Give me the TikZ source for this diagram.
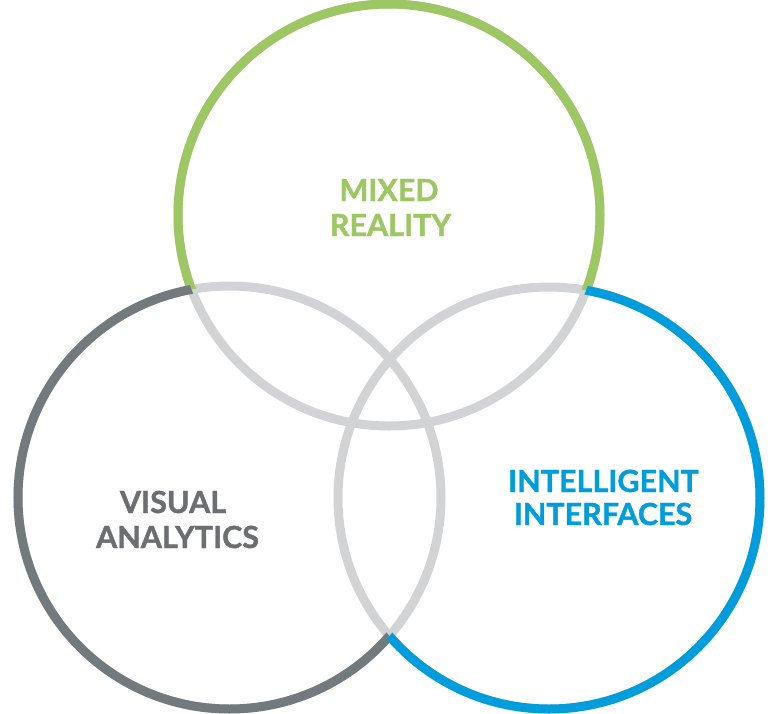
\documentclass[tikz,border=0pt]{standalone}
\usepackage{fontspec}
\setmainfont{Lato}[BoldFeatures={FakeBold=1.2}]
\definecolor{mrgreen}{HTML}{9DC763}
\definecolor{vagray}{HTML}{737A7E}
\definecolor{iiblue}{HTML}{009DDC}
\definecolor{lightring}{HTML}{D1D3D4}
\definecolor{vatext}{HTML}{6D6E71}
\tikzset{
  ring/.style={line width=9pt},
  lbl/.style={font=\fontsize{30.5}{30.5}\selectfont\bfseries, anchor=base, inner sep=0pt}
}
\begin{document}
\begin{tikzpicture}[x=1pt,y=-1pt]
\useasboundingbox (0,0) rectangle (780,713);
\coordinate (cg) at (389,215);
\coordinate (cv) at (229.5,497.5);
\coordinate (cb) at (549,498);
% light gray rings underneath
\draw[ring, lightring] (cg) circle[radius=211];
\draw[ring, lightring] (cv) circle[radius=211.5];
\draw[ring, lightring] (cb) circle[radius=211];
% coloured parts outside the other circles
\begin{scope}[even odd rule]
  \clip (-50,-50) rectangle (830,763) (cv) circle[radius=211.5];
  \clip (-50,-50) rectangle (830,763) (cb) circle[radius=211];
  \draw[ring, mrgreen] (cg) circle[radius=211];
\end{scope}
\begin{scope}[even odd rule]
  \clip (-50,-50) rectangle (830,763) (cg) circle[radius=211];
  \clip (-50,-50) rectangle (830,763) (cb) circle[radius=211];
  \draw[ring, vagray] (cv) circle[radius=211.5];
\end{scope}
\begin{scope}[even odd rule]
  \clip (-50,-50) rectangle (830,763) (cg) circle[radius=211];
  \clip (-50,-50) rectangle (830,763) (cv) circle[radius=211.5];
  \draw[ring, iiblue] (cb) circle[radius=211];
\end{scope}
% labels
\node[lbl, text=mrgreen] (mr1) at (389,201) {MIXED};
\node[lbl, text=mrgreen] (mr2) at (390.5,236) {REALITY};
\node[lbl, text=vatext] (va1) at (173,513) {VISUAL};
\node[lbl, text=vatext] (va2) at (177.5,548) {ANALYTICS};
\node[lbl, text=iiblue] (ii1) at (603.5,492) {INTELLIGENT};
\node[lbl, text=iiblue] (ii2) at (603,525) {INTERFACES};
\end{tikzpicture}
\end{document}
